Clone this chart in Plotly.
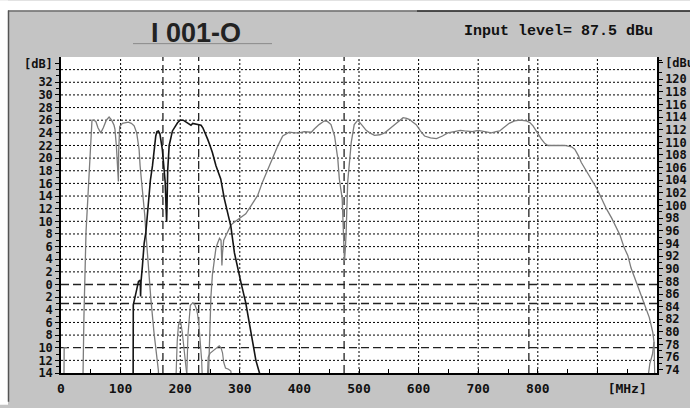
import plotly.graph_objects as go

# ---------------- data ----------------
INPUT_LEVEL = 87.5  # dBu, right axis = left axis + input level

# gray low band trace (VHF I / FM region)
low_x = [5, 5.3, 10, None, 36, 37, 38.5, 40, 42, 45, 47.5, 50, 52, 55, 58.5, 62, 66.7, 71, 76, 80.7, 85, 89, 90.5,
         93, 94.7, 96.3, 96.8, 98.5, 103, 108, 113, 118, 122.7, 127, 131, 132.7, 135.5, 138, 140.5, 142.3,
         144, 146.7, 150.7, 156, 159, 162, 163.4, 164]
low_y = [-14.5, -10, -10, None, -16, -14, -5, 2, 8.4, 13.6, 18.8, 24, 26, 26, 25.8, 24.8, 24, 24.8, 26, 26.5, 26, 25.2, 24.6,
         21.8, 19.6, 16.3, 21, 25, 25.5, 25.6, 25.7, 25.5, 25.1, 24, 21.4, 18.8, 16.2, 13.6, 11, 8.4,
         6.2, 2.9, -2.2, -7.6, -10, -12.8, -13.6, -16]

# black trace (VHF III band)
blk_x = [121, 121.3, 123, 125.5, 128, 130, 133, 133.5, 134.3, 136.6, 139.5, 142.3, 144.5, 146.7, 150, 153.5,
         156.5, 159, 161, 163.5, 166, 170, 174.8, 176.5, 177.2, 177.8, 179, 181.5, 187, 195.5, 200, 205,
         210, 214, 218, 221, 226, 231, 235, 238, 241, 246, 250, 254, 260, 264, 268, 274, 279.5, 285,
         291, 296, 302, 310, 319, 327, 333, 335]
blk_y = [-16, -3.2, -2.5, -1.5, 0, 0.5, 0.7, -1.9, 0.5, 2.9, 6.5, 8.2, 11, 13.6, 16.5, 18.8,
         22, 23.5, 24.2, 24.3, 23.8, 21.4, 16.2, 13, 9.9, 12, 18, 22, 24.3, 25.6, 26, 26,
         25.7, 25.4, 25.2, 25.5, 25.4, 25.3, 25.2, 24.8, 24.2, 23, 22, 20.9, 18.8, 17.8, 16.7, 13.6, 11.5, 9.2,
         5, 2.6, 0.3, -2.9, -7.6, -12, -14, -16]

# gray side lobes below the main bands
lobe_x = [192, 193, 195, 197, 199, 201, 203.5, 206, 209, 212, 213, None,
          210, 211, 213, 215, 217, 221, 224, 227, 229, 231.5, 234, 236, 237.5, None,
          245, 246, 247, 250, 255, 260, 265.5, 268.5, 271, 273, 276, 281, 285, 287]
lobe_y = [-16, -14.5, -9, -6.5, -5.8, -6, -7.6, -9.5, -12, -14.5, -16, None,
          -16, -14.5, -8, -4.8, -3.3, -2.9, -3.1, -3.8, -4.6, -6.5, -9.1, -12, -16, None,
          -16, -14.5, -11.5, -10.9, -10.5, -10, -9.7, -10, -10.8, -12.3, -13.2, -13.4, -13.7, -16]

# gray UHF band trace
uhf_x = [247, 249, 251.5, 254, 257, 260, 263, 266, 268.5, 269.5, 270, 271, 273, 277, 281, 285, 290, 296, 303,
         310, 319, 330, 338, 347, 355, 363.6, 372, 383, 392, 400, 408, 414, 420, 425, 433, 442, 447, 453,
         459, 464.4, 467, 471.8, 474, 475.6, 477, 478.5, 481, 484, 487, 492, 498, 506, 512, 518, 526, 535,
         543, 552, 560, 567, 574, 580, 585, 590, 596, 603, 610, 620, 630, 640, 649, 660, 670, 677, 690,
         700, 712, 722, 730, 736, 741, 745, 752, 761, 770, 781, 787, 792, 799, 806, 812, 817, 825, 834,
         845, 856.6, 862, 868, 873, 880, 890, 899, 907, 915, 924, 931, 938, 945, 951, 956.5, 962, 967.6,
         973, 978.8, 983, 987, 990, 993, 995, 992.5, 988, 985, 984.5]
uhf_y = [-16, -8, -2, 1.5, 4, 5.8, 6.6, 7.3, 7, 4, 3, 5, 7, 7.8, 8.5, 9.4, 9.8, 10.2, 10.7,
         11.2, 12.5, 14.1, 16.2, 18.3, 19.9, 21.9, 23.5, 24.1, 24, 24, 24.2, 24.1, 24.1, 24.6, 25.3, 25.9, 25.8, 25.3,
         23.5, 19.9, 16.7, 13.6, 7.3, 3.7, 5.5, 8.4, 16.2, 18.8, 22.5, 25.3, 26, 25.1, 24.4, 24, 23.6, 23.7,
         24, 24.7, 25.3, 25.9, 26.4, 26.3, 26.1, 25.7, 25.3, 24.3, 23.5, 23.2, 23.1, 23.5, 24, 24.2, 24.4, 24.3, 24.2,
         24.4, 24.2, 24, 24.2, 24.3, 24.7, 25, 25.5, 25.9, 26, 25.9, 25.6, 25.1, 24, 23, 22.3, 22, 22, 22,
         22, 21.8, 21.4, 20.4, 19.3, 18.2, 16.7, 15.2, 13.6, 12, 10.5, 9.2, 7.8, 5.8, 4.6, 2.6, 1.2, -0.3,
         -1.6, -2.9, -4, -5.2, -6.4, -7.6, -9.1, -11, -12.5, -14, -15]
edge_x = [995, 996, 996.3]
edge_y = [-9.1, -12, -15]

# markers / tick definitions
X_LABEL_TICKS = [0, 100, 200, 300, 400, 500, 600, 700, 800, 950]
X_LABEL_TEXT = ["0", "100", "200", "300", "400", "500", "600", "700", "800", "[MHz]"]
V_DASHED = [171, 231, 475, 785]
H_DASHED = [0, -3, -10]
TITLE = "I 001-O"
INFO = "Input level= 87.5 dBu"

# ---------------- layout geometry ----------------
W, H = 690, 408
L, R, T, B = 61, 33, 57, 32
PW, PH = W - L - R, H - T - B
Y0, Y1 = -14, 36
X0, X1 = 0, 1000

def px2paper_x(px):
    return (px - L) / PW

def px2paper_y(py):
    return (H - B - py) / PH

GRAYBG = "#c4c4c4"
FONT = "DejaVu Sans Mono"

fig = go.Figure()
fig.add_trace(go.Scatter(x=lobe_x, y=lobe_y, mode="lines", line=dict(color="#7c7c7c", width=1.2),
                         connectgaps=False, hoverinfo="skip"))
fig.add_trace(go.Scatter(x=low_x, y=low_y, mode="lines", line=dict(color="#7c7c7c", width=1.3),
                         connectgaps=False, hoverinfo="skip"))
fig.add_trace(go.Scatter(x=uhf_x, y=uhf_y, mode="lines", line=dict(color="#7c7c7c", width=1.3),
                         hoverinfo="skip"))
fig.add_trace(go.Scatter(x=edge_x, y=edge_y, mode="lines", line=dict(color="#7c7c7c", width=1.2),
                         hoverinfo="skip"))
fig.add_trace(go.Scatter(x=blk_x, y=blk_y, mode="lines", line=dict(color="#151515", width=1.6),
                         hoverinfo="skip"))
# invisible trace to activate the right axis
fig.add_trace(go.Scatter(x=[X0], y=[Y0 + INPUT_LEVEL], yaxis="y2", mode="markers",
                         marker=dict(opacity=0), hoverinfo="skip"))

shapes = []
# dotted grid
for gx in range(100, 1000, 100):
    shapes.append(dict(type="line", xref="x", yref="y", x0=gx, x1=gx, y0=Y0, y1=Y1, layer="below",
                       line=dict(color="black", width=1, dash="2px,2px")))
for gy in range(-12, 36, 2):
    if gy in H_DASHED:
        continue
    shapes.append(dict(type="line", xref="x", yref="y", x0=X0, x1=X1, y0=gy, y1=gy, layer="below",
                       line=dict(color="black", width=1, dash="2px,2px")))
# dashed reference lines
for vx in V_DASHED:
    shapes.append(dict(type="line", xref="x", yref="y", x0=vx, x1=vx, y0=Y0, y1=Y1, layer="below",
                       line=dict(color="#222", width=1.3, dash="8px,4px")))
for hy in H_DASHED:
    shapes.append(dict(type="line", xref="x", yref="y", x0=X0, x1=X1, y0=hy, y1=hy, layer="below",
                       line=dict(color="#222", width=1.3, dash="8px,4px")))

# frame: white outside strips and border lines
shapes.append(dict(type="rect", xref="paper", yref="paper", x0=px2paper_x(0), x1=px2paper_x(W),
                   y0=px2paper_y(10), y1=px2paper_y(0), fillcolor="white", line=dict(width=0), layer="below"))
shapes.append(dict(type="rect", xref="paper", yref="paper", x0=px2paper_x(0), x1=px2paper_x(8),
                   y0=px2paper_y(H), y1=px2paper_y(0), fillcolor="white", line=dict(width=0), layer="below"))
shapes.append(dict(type="line", xref="paper", yref="paper", x0=px2paper_x(8), x1=px2paper_x(417),
                   y0=px2paper_y(10.5), y1=px2paper_y(10.5), line=dict(color="#6e6e6e", width=1.5)))
shapes.append(dict(type="line", xref="paper", yref="paper", x0=px2paper_x(417), x1=px2paper_x(W),
                   y0=px2paper_y(10.5), y1=px2paper_y(10.5), line=dict(color="#1e1e1e", width=1.5)))
shapes.append(dict(type="line", xref="paper", yref="paper", x0=px2paper_x(8.5), x1=px2paper_x(8.5),
                   y0=px2paper_y(405), y1=px2paper_y(10), line=dict(color="#555", width=1.5)))
shapes.append(dict(type="line", xref="paper", yref="paper", x0=px2paper_x(133), x1=px2paper_x(272),
                   y0=px2paper_y(43.5), y1=px2paper_y(43.5), line=dict(color="#8a8a8a", width=1)))

annotations = [
    dict(text="<b>%s</b>" % TITLE, xref="paper", yref="paper", x=px2paper_x(195.5), y=px2paper_y(32.5),
         showarrow=False, xanchor="center", yanchor="middle",
         font=dict(family="Liberation Sans", size=27, color="#222")),
    dict(text=INFO, xref="paper", yref="paper", x=px2paper_x(558), y=px2paper_y(31),
         showarrow=False, xanchor="center", yanchor="middle",
         font=dict(family="Liberation Mono", size=15, color="#111", weight="bold")),
]

left_vals = [35] + list(range(32, -16, -2))
left_text = ["[dB]"] + [str(abs(v)) for v in range(32, -16, -2)]
left_minor = [v for v in range(-13, 36) if v not in left_vals]
right_vals = list(range(74, 122, 2)) + [122.6]
right_text = [str(v) for v in range(74, 122, 2)] + ["[dBu]"]
right_minor = [v for v in range(75, 124, 2)]

YFONT = dict(family=FONT, size=12, color="#111", weight="bold")

fig.update_layout(
    width=W, height=H,
    margin=dict(l=L, r=R, t=T, b=B, pad=0),
    paper_bgcolor=GRAYBG, plot_bgcolor="white",
    showlegend=False,
    shapes=shapes, annotations=annotations,
    font=dict(family=FONT, size=13, color="#111", weight="bold"),
    xaxis=dict(range=[X0, X1], showgrid=False, zeroline=False, showline=True, linecolor="black", linewidth=1.5,
               tickmode="array", tickvals=X_LABEL_TICKS, ticktext=X_LABEL_TEXT, ticks="",
               ticklabelstandoff=3,
               minor=dict(tickmode="array", tickvals=list(range(50, 1000, 50)), ticks="inside", ticklen=4,
                          tickcolor="black", showgrid=False),
               tickfont=dict(family=FONT, size=13, color="#111", weight="bold")),
    yaxis=dict(range=[Y0, Y1], showgrid=False, zeroline=False, showline=True, linecolor="black", linewidth=1.5,
               tickmode="array", tickvals=left_vals, ticktext=left_text, ticks="outside", ticklen=4,
               tickcolor="black",
               minor=dict(tickmode="array", tickvals=left_minor, ticks="outside", ticklen=3,
                          tickcolor="black", showgrid=False),
               tickfont=YFONT),
    yaxis2=dict(range=[Y0 + INPUT_LEVEL, Y1 + INPUT_LEVEL], overlaying="y", side="right", showgrid=False,
                zeroline=False, showline=True, linecolor="black", linewidth=1.5,
                tickmode="array", tickvals=right_vals, ticktext=right_text, ticks="outside", ticklen=4,
                tickcolor="black", automargin=False,
                minor=dict(tickmode="array", tickvals=right_minor, ticks="outside", ticklen=3,
                           tickcolor="black", showgrid=False),
                tickfont=YFONT),
)

fig.write_html("out.html")
